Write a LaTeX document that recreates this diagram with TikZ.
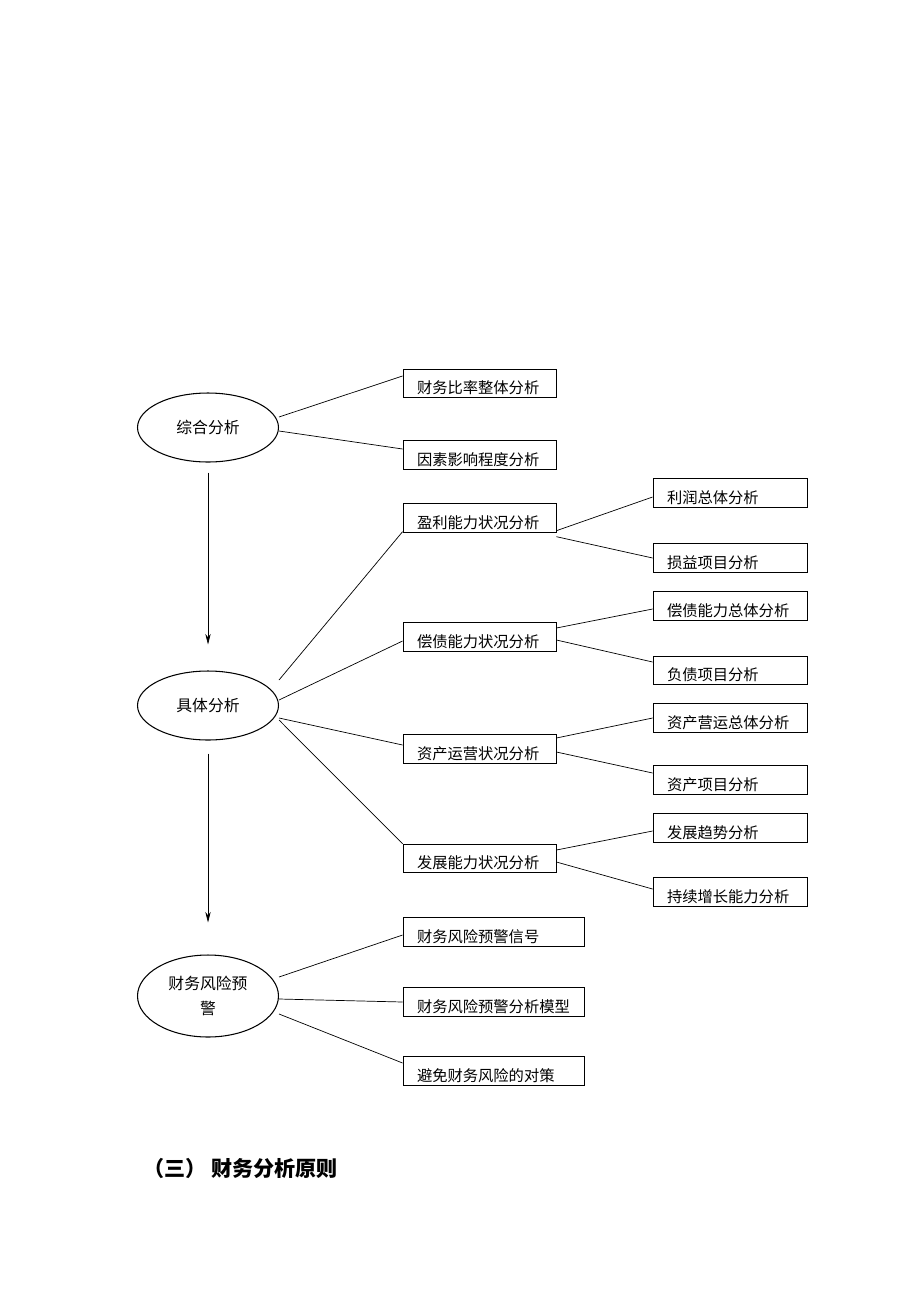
\documentclass[tikz,border=0pt]{standalone}
\usepackage{fontspec}
\setmainfont{Noto Sans CJK SC}
\usetikzlibrary{shapes.geometric,arrows.meta}

\begin{document}
\begin{tikzpicture}[x=0.02cm, y=-0.02cm, >={Stealth[length=6pt,width=3pt]},
  oval/.style={ellipse, draw, line width=0.6pt, minimum width=2.82cm, minimum height=1.38cm, inner sep=0pt, align=center, font=\fontsize{9}{14.5}\selectfont},
  box/.style={rectangle, draw, line width=0.5pt, minimum height=0.57cm, inner ysep=0pt, inner xsep=0.28cm, text height=0.4cm, text depth=0cm, align=left, font=\fontsize{8.7}{10}\selectfont},
  midbox/.style={box, text width=2.5cm},
  leafbox/.style={box, text width=2.52cm},
  warnbox/.style={box, text width=3.06cm}]

\useasboundingbox (0,0) rectangle (920,1302);

% left column
\node[oval] (E1) at (208,427.5) {综合分析};
\node[oval] (E2) at (208,705.5) {具体分析};
\node[oval, minimum height=1.64cm] (E3) at (208,996) {财务风险预\\警};

\draw[->] (E1) -- (E2) [shorten <=0.2cm, shorten >=0.52cm];
\draw[->] (E2) -- (E3) [shorten <=0.26cm, shorten >=0.64cm];

% comprehensive analysis
\node[midbox] (B1) at (479.5,383.5) {财务比率整体分析};
\node[midbox] (B2) at (479.5,455) {因素影响程度分析};

% specific analysis
\node[midbox] (P1) at (479.5,518) {盈利能力状况分析};
\node[midbox] (P2) at (479.5,637) {偿债能力状况分析};
\node[midbox] (P3) at (479.5,749) {资产运营状况分析};
\node[midbox] (P4) at (479.5,858.5) {发展能力状况分析};

\node[leafbox] (R1) at (730,493) {利润总体分析};
\node[leafbox] (R2) at (730,558) {损益项目分析};
\node[leafbox] (R3) at (730,606) {偿债能力总体分析};
\node[leafbox] (R4) at (730,670.5) {负债项目分析};
\node[leafbox] (R5) at (730,718) {资产营运总体分析};
\node[leafbox] (R6) at (730,780) {资产项目分析};
\node[leafbox] (R7) at (730,828) {发展趋势分析};
\node[leafbox] (R8) at (730,892) {持续增长能力分析};

% risk warning
\node[warnbox] (Q1) at (493.5,932) {财务风险预警信号};
\node[warnbox] (Q2) at (493.5,1002) {财务风险预警分析模型};
\node[warnbox] (Q3) at (493.5,1071) {避免财务风险的对策};

\draw ([yshift=0.21cm]E1.east) -- ([yshift=0.15cm]B1.west);
\draw ([yshift=-0.07cm]E1.east) -- ([yshift=0.12cm]B2.west);

\draw ([yshift=0.51cm]E2.east) -- ([yshift=0.02cm]P1.south west);
\draw ([yshift=0.11cm]E2.east) -- ([yshift=-0.08cm]P2.west);
\draw ([yshift=-0.25cm]E2.east) -- ([yshift=0.08cm]P3.west);
\draw ([yshift=-0.29cm]E2.east) -- (P4.north west);

\draw ([yshift=0.04cm]P1.south east) -- ([yshift=-0.08cm]R1.west);
\draw ([yshift=-0.08cm]P1.south east) -- (R2.west);
\draw ([yshift=0.18cm]P2.east) -- ([yshift=-0.06cm]R3.west);
\draw ([yshift=-0.06cm]P2.east) -- ([yshift=0.17cm]R4.west);
\draw ([yshift=0.22cm]P3.east) -- (R5.west);
\draw ([yshift=-0.06cm]P3.east) -- ([yshift=0.14cm]R6.west);
\draw ([yshift=0.17cm]P4.east) -- ([yshift=-0.06cm]R7.west);
\draw ([yshift=-0.07cm]P4.east) -- ([yshift=0.06cm]R8.west);

\draw ([yshift=0.38cm]E3.east) -- ([yshift=-0.06cm]Q1.west);
\draw ([yshift=-0.06cm]E3.east) -- (Q2.west);
\draw ([yshift=-0.36cm]E3.east) -- ([yshift=0.16cm]Q3.west);

% heading below
\node[anchor=west, font=\fontsize{12}{14}\selectfont\bfseries] (title) at (137,1168) {（三） 财务分析原则};

\end{tikzpicture}
\end{document}
